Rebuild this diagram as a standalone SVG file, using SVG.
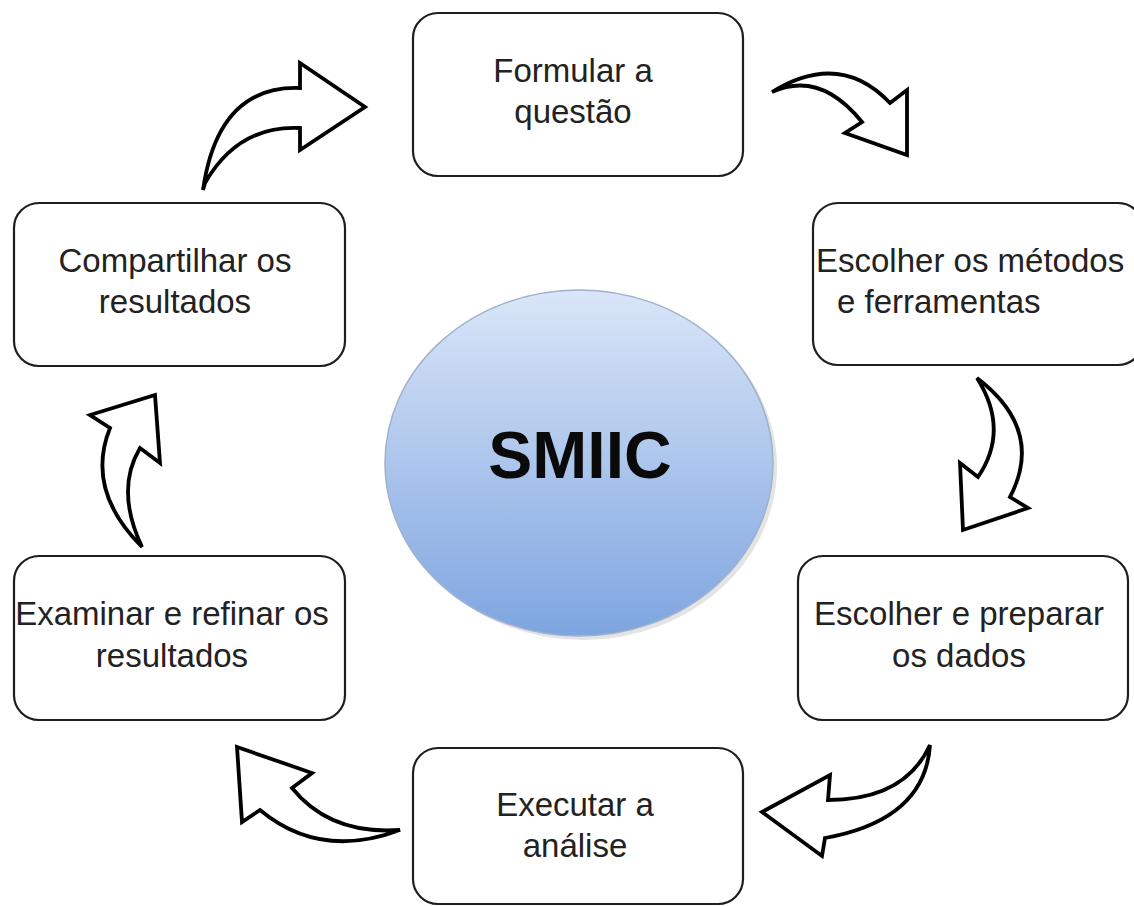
<svg xmlns="http://www.w3.org/2000/svg" width="1134" height="906" viewBox="0 0 1134 906">
<defs>
<linearGradient id="blueGrad" x1="0" y1="0" x2="0" y2="1">
<stop offset="0" stop-color="#dae6f8"/>
<stop offset="1" stop-color="#7ea5e0"/>
</linearGradient>
<style>
.box{fill:#ffffff;stroke:#1e1e1e;stroke-width:2.2}
.lbl{font-family:"Liberation Sans",Arial,sans-serif;font-size:33px;fill:#222222}
.ctr{text-anchor:middle}
.arrow{fill:#ffffff;stroke:#000000;stroke-width:3.8;stroke-linejoin:miter}
</style>
</defs>
<rect width="1134" height="906" fill="#ffffff"/>

<g id="center">
<ellipse cx="583" cy="467" rx="194" ry="173" fill="#e4e4e4"/>
<ellipse cx="579" cy="463" rx="194" ry="173" fill="url(#blueGrad)" stroke="#9fb1cc" stroke-width="1.5"/>
<text x="580" y="478" font-family="Liberation Sans,Arial,sans-serif" font-weight="bold" font-size="66" fill="#0a0a0a" text-anchor="middle">SMIIC</text>
</g>

<g id="node-formular">
<rect class="box" x="413" y="13" width="330" height="163" rx="25"/>
<text class="lbl ctr" x="573" y="82">Formular a</text>
<text class="lbl ctr" x="573" y="123">questão</text>
</g>

<g id="node-metodos">
<rect class="box" x="813" y="203" width="330" height="162" rx="25"/>
<text class="lbl" x="816" y="272">Escolher os métodos</text>
<text class="lbl" x="837" y="313">e ferramentas</text>
</g>

<g id="node-dados">
<rect class="box" x="798" y="556" width="330" height="164" rx="25"/>
<text class="lbl ctr" x="959" y="625">Escolher e preparar</text>
<text class="lbl ctr" x="959" y="667">os dados</text>
</g>

<g id="node-analise">
<rect class="box" x="413" y="748" width="330" height="156" rx="25"/>
<text class="lbl ctr" x="575" y="816">Executar a</text>
<text class="lbl ctr" x="575" y="857">análise</text>
</g>

<g id="node-examinar">
<rect class="box" x="14" y="556" width="331" height="164" rx="25"/>
<text class="lbl ctr" x="172" y="625">Examinar e refinar os</text>
<text class="lbl ctr" x="172" y="667">resultados</text>
</g>

<g id="node-compartilhar">
<rect class="box" x="14" y="203" width="331" height="163" rx="25"/>
<text class="lbl ctr" x="175" y="272">Compartilhar os</text>
<text class="lbl ctr" x="175" y="313">resultados</text>
</g>

<g id="connectors">
<path class="arrow" d="M 203,190 Q 218,85 300,88 L 300,63 L 365,107 L 300,150 L 300,128 Q 238,125 205,183 Z"/>
<path class="arrow" d="M 772,92 Q 840,50 890,103 L 907,90 L 907,155 L 845,133 L 862,122 Q 820,70 772,92 Z"/>
<path class="arrow" d="M 977,378 Q 1045,430 1010,497 L 1028,508 L 963,530 L 960,463 L 978,477 Q 1010,430 977,378 Z"/>
<path class="arrow" d="M 930,745 Q 905,800 828,800 L 830,775 L 762,812 L 822,856 L 825,838 Q 925,820 930,745 Z"/>
<path class="arrow" d="M 237,747 L 312,773 L 292,788 Q 330,835 400,830 Q 320,860 260,810 L 242,822 Z"/>
<path class="arrow" d="M 155,395 L 160,463 L 140,448 Q 115,490 142,547 Q 85,490 110,428 L 90,415 Z"/>
</g>
</svg>
